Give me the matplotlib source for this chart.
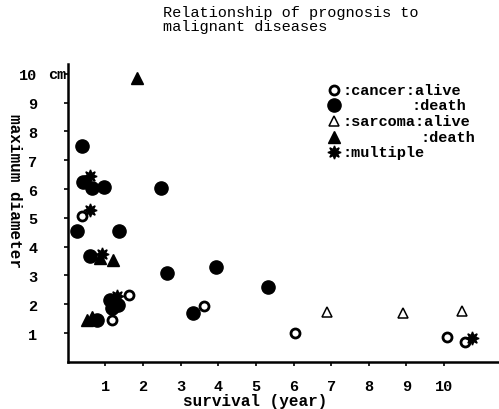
import matplotlib
matplotlib.use("Agg")
import matplotlib.pyplot as plt

# survival (year) / maximum diameter (cm)
cancer_alive_x = [0.37, 1.62, 1.17, 3.61, 6.05, 10.08, 10.56]
cancer_alive_y = [5.05, 2.33, 1.46, 1.95, 1.01, 0.87, 0.70]

cancer_death_x = [0.37, 0.40, 0.64, 0.95, 2.47, 0.24, 1.35, 0.58,
                  2.63, 3.93, 5.31, 3.32, 0.77, 1.11, 1.17, 1.33]
cancer_death_y = [7.49, 6.24, 6.03, 6.06, 6.03, 4.56, 4.56, 3.69,
                  3.10, 3.31, 2.61, 1.71, 1.46, 2.16, 1.88, 1.99]

sarcoma_alive_x = [6.90, 8.91, 10.48]
sarcoma_alive_y = [1.74, 1.71, 1.78]

sarcoma_death_x = [1.83, 0.85, 1.19, 0.50, 0.64]
sarcoma_death_y = [9.86, 3.59, 3.55, 1.46, 1.57]

multiple_x = [0.58, 0.58, 0.90, 1.30, 10.74]
multiple_y = [6.45, 5.26, 3.76, 2.30, 0.84]

x_ticks = [1, 2, 3, 4, 5, 6, 7, 8, 9, 10]
y_ticks = [1, 2, 3, 4, 5, 6, 7, 8, 9, 10]

MONO = "Liberation Mono"

fig = plt.figure(figsize=(4.99, 4.10), dpi=100)
ax = fig.add_axes([0.136, 0.115, 0.864, 0.727])

open_style = dict(ls="none", mfc="white", mec="black", clip_on=False)
ax.plot(cancer_alive_x, cancer_alive_y, "o", ms=6.5, mew=2.0, **open_style)
ax.plot(cancer_death_x, cancer_death_y, "o", ms=9.5, color="black", ls="none",
        clip_on=False)
ax.plot(sarcoma_alive_x, sarcoma_alive_y, "^", ms=6.5, mew=1.1, **open_style)
ax.plot(sarcoma_death_x, sarcoma_death_y, "^", ms=8.5, color="black",
        ls="none", clip_on=False)
ax.plot(multiple_x, multiple_y, marker=(8, 1, 0), ms=9.5, color="black",
        ls="none", clip_on=False)

ax.set_xlim(0, 11.46)
ax.set_ylim(0, 10.35)
ax.set_xticks(x_ticks)
ax.set_yticks(y_ticks)
ax.set_xticklabels([str(v) for v in x_ticks], fontfamily=MONO,
                   fontweight="bold", fontsize=11)
ax.set_yticklabels([str(v) for v in y_ticks], fontfamily=MONO,
                   fontweight="bold", fontsize=11)
ax.tick_params(axis="x", direction="out", length=3, width=1.2, pad=9)
ax.tick_params(axis="y", direction="out", length=3, width=1.2, pad=19)
for side in ("top", "right"):
    ax.spines[side].set_visible(False)
for side in ("left", "bottom"):
    ax.spines[side].set_linewidth(1.8)

ax.text(-0.003, 10, "cm", transform=ax.get_yaxis_transform(), ha="right",
        va="center", fontfamily=MONO, fontweight="bold", fontsize=11)

# hand-laid legend, like the original
legend_rows = [
    ("o", dict(ms=6.5, mew=2.0, mfc="white", mec="black"), ":cancer:alive", 0.0),
    ("o", dict(ms=9.5, color="black"), ":death", 0.158),
    ("^", dict(ms=6.5, mew=1.1, mfc="white", mec="black"), ":sarcoma:alive", 0.0),
    ("^", dict(ms=8.5, color="black"), ":death", 0.18),
    ((8, 1, 0), dict(ms=9.5, color="black"), ":multiple", 0.0),
]
row_y = [0.913, 0.862, 0.809, 0.755, 0.705]
for (mk, kw, label, indent), y in zip(legend_rows, row_y):
    ax.plot([0.618], [y], marker=mk, ls="none", transform=ax.transAxes,
            clip_on=False, **kw)
    ax.text(0.638 + indent, y, label, transform=ax.transAxes, ha="left",
            va="center", fontfamily=MONO, fontweight="bold", fontsize=11)

fig.text(0.327, 0.985, "Relationship of prognosis to\nmalignant diseases",
         ha="left", va="top", fontfamily=MONO, fontsize=11, linespacing=0.95)
fig.text(0.511, 0.02, "survival (year)", ha="center", va="center",
         fontfamily=MONO, fontweight="bold", fontsize=11.5)
fig.text(0.03, 0.535, "maximum diameter", ha="center", va="center",
         rotation=270, fontfamily=MONO, fontweight="bold", fontsize=11.5)

fig.savefig("out.png", dpi=100)
